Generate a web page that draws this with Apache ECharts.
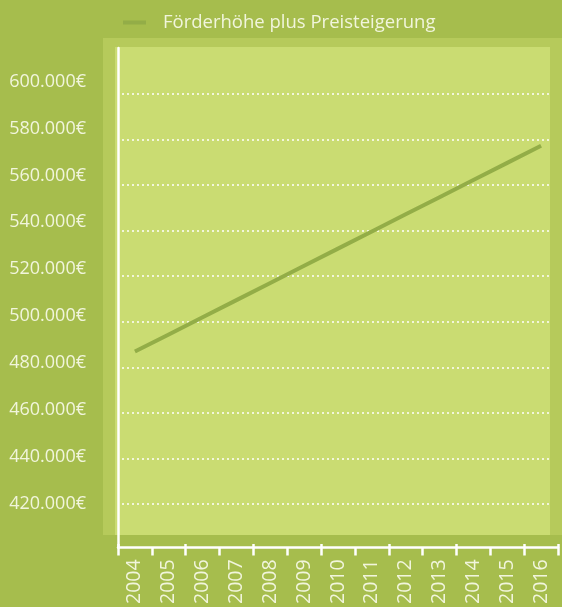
<!DOCTYPE html>
<html>
<head>
<meta charset="utf-8">
<script src="https://cdn.jsdelivr.net/npm/echarts@6/dist/echarts.min.js"></script>
<style>
  html, body { margin: 0; padding: 0; background: #a6bd4d; }
  #chart { width: 562px; height: 607px; }
</style>
</head>
<body>
<div id="chart"></div>
<script>
// Yearly funding amount including price increases (EUR)
const years = ['2004', '2005', '2006', '2007', '2008', '2009', '2010',
               '2011', '2012', '2013', '2014', '2015', '2016'];
const funding = [485700, 493300, 500900, 508500, 516100, 523700, 531300,
                 538900, 546500, 554100, 561700, 569300, 576900];
const seriesName = 'Förderhöhe plus Preisteigerung';
const yTicks = [420000, 600000, 20000]; // first tick, last tick, step

const FONT = '"Open Sans", sans-serif';
const TEXT = '#f1f5dc';
const LINE = '#93ad47';

const fmtEuro = v => v.toLocaleString('de-DE') + '€';

const chart = echarts.init(document.getElementById('chart'), null, { renderer: 'canvas' });

chart.setOption({
  backgroundColor: '#a6bd4d',
  animation: false,
  graphic: [
    { type: 'rect', z: -10, shape: { x: 103, y: 38, width: 459, height: 497 },
      style: { fill: '#b6ca5b' }, silent: true },
    { type: 'rect', z: -9, shape: { x: 115, y: 47, width: 435, height: 488 },
      style: { fill: '#cadc72' }, silent: true }
  ],
  legend: {
    data: [seriesName],
    left: 118, top: 8,
    icon: 'rect',
    itemWidth: 23, itemHeight: 4,
    textStyle: { color: TEXT, fontFamily: FONT, fontSize: 18.5, padding: [0, 0, 0, 12] }
  },
  grid: [
    // plot grid: axis lines and the series
    { left: 118, right: 4, top: 48, bottom: 55 },
    // dotted horizontal guides
    { left: 122, right: 12, top: 94, bottom: 103 },
    // value labels column
    { left: 96, right: 4, top: 81.5, height: 422.5 },
    // upper half of the crossing tick marks
    { left: 118, right: 4, top: 48, bottom: 55 }
  ],
  xAxis: [
    {
      gridIndex: 0, type: 'category', data: years, boundaryGap: true,
      axisLine: { lineStyle: { color: '#ffffff', width: 2.5 } },
      axisTick: { show: true, length: 8, lineStyle: { color: '#ffffff', width: 2.5 } },
      axisLabel: { rotate: 90, margin: 12, color: TEXT, fontFamily: FONT, fontSize: 19.5 }
    },
    { gridIndex: 1, type: 'category', data: years, show: false },
    { gridIndex: 2, type: 'category', data: years, show: false },
    {
      gridIndex: 3, type: 'category', data: years, boundaryGap: true,
      axisLine: { show: false },
      axisTick: { show: true, inside: true, length: 8, lineStyle: { color: '#ffffff', width: 2.5 } },
      axisLabel: { show: false }
    }
  ],
  yAxis: [
    {
      gridIndex: 0, type: 'value', min: 398930, max: 620200,
      axisLine: { show: true, lineStyle: { color: '#ffffff', width: 2.5 } },
      axisTick: { show: false }, axisLabel: { show: false }, splitLine: { show: false }
    },
    {
      gridIndex: 1, type: 'value', min: yTicks[0], max: yTicks[1], interval: yTicks[2],
      axisLine: { show: false }, axisTick: { show: false }, axisLabel: { show: false },
      splitLine: {
        show: true, showMinLine: true, showMaxLine: true,
        lineStyle: { color: 'rgba(255,255,255,0.75)', width: 2, type: [2, 3] }
      }
    },
    {
      gridIndex: 2, type: 'value', min: yTicks[0], max: yTicks[1], interval: yTicks[2],
      axisLine: { show: false }, axisTick: { show: false }, splitLine: { show: false },
      axisLabel: { color: TEXT, fontFamily: FONT, fontSize: 18, margin: 10, formatter: fmtEuro }
    },
    {
      gridIndex: 3, type: 'value', min: 398930, max: 620200, show: false
    }
  ],
  series: [
    {
      name: seriesName, type: 'line', xAxisIndex: 0, yAxisIndex: 0,
      data: funding, symbol: 'none', color: LINE,
      lineStyle: { color: LINE, width: 4 }
    }
  ]
});
</script>
</body>
</html>
